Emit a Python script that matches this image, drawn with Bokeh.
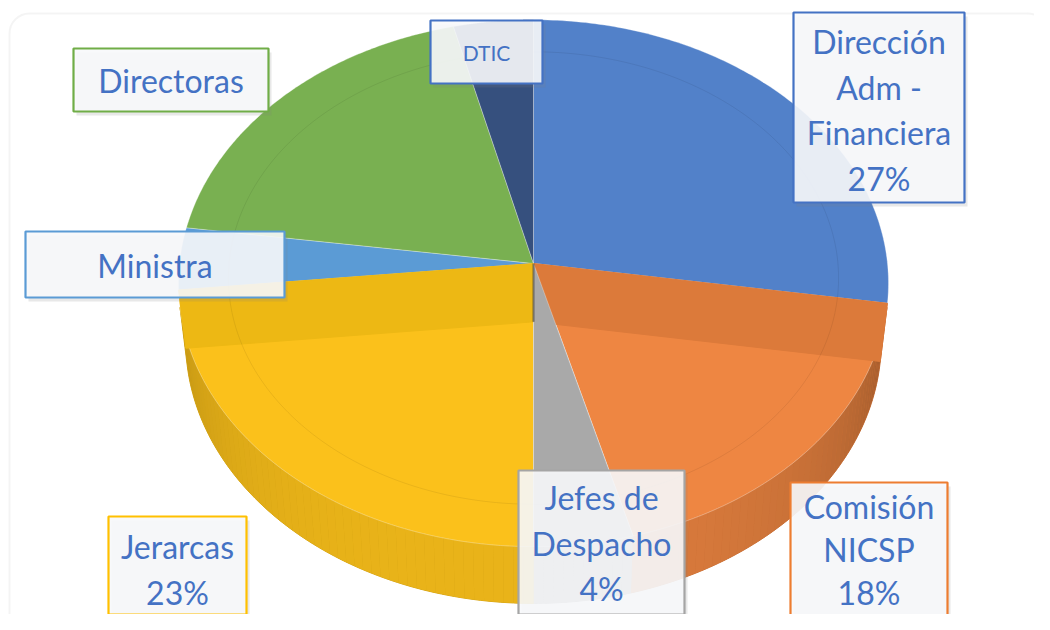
import numpy as np
from bokeh.plotting import figure
from bokeh.models import Range1d, BoxAnnotation, ColumnDataSource
from bokeh.core.properties import value
from bokeh.embed import file_html
from bokeh.resources import INLINE

# ---------------- data ----------------
categories = ["Dirección Adm - Financiera", "Comisión NICSP", "Jefes de Despacho",
              "Jerarcas", "Ministra", "Directoras", "DTIC"]
shares = [27.4, 18.4, 4.2, 23.4, 3.8, 18.9, 3.9]
show_pct = [True, True, True, True, False, False, False]
label_wrap = [["Dirección", "Adm -", "Financiera"], ["Comisión", "NICSP"], ["Jefes de", "Despacho"],
              ["Jerarcas"], ["Ministra"], ["Directoras"], ["DTIC"]]

# ---------------- style ----------------
top_colors = ["#5281C9", "#EE8642", "#A9A9A9", "#FBC11B", "#5B9BD5", "#79B051", "#36507E"]
band_colors = ["#4A78C0", "#DC7A3A", "#9C9C9C", "#EDB814", "#5590C8", "#6FA348", "#2F4773"]
border_colors = ["#4472C4", "#ED7D31", "#A5A5A5", "#FFC000", "#5B9BD5", "#70AD47", "#4472C4"]
text_color = "#4472C4"
font = "Lato"

label_boxes = [(793, 12, 964, 202), (790, 482, 947, 640), (518, 470, 684, 614),
               (108, 516, 246, 614), (25, 231, 284, 297), (73, 48, 268, 111), (430, 20, 542, 83)]
first_line_y = [41, 506, 497, 546, 265, 80, 52]
line_steps = [45.5, 43, 45.5, 45.5, 45.5, 45.5, 45.5]
font_sizes = [32, 32, 32, 32, 32, 32, 21]

# projection parameters (perspective 3D pie)
cx, cy0 = 533.0, 263.0
sphi, cphi = 0.74, 0.6726
D = 9.0
f = 3186.0
h = 0.25


def proj(X, Y, Z):
    u = X
    v = Y * sphi + Z * cphi
    w = D + Y * cphi - Z * sphi
    return cx + f * u / w, cy0 - f * v / w


def shade(hexcol, k):
    r, g, b = (int(hexcol[i:i + 2], 16) for i in (1, 3, 5))
    r, g, b = (max(0, min(255, int(c * k))) for c in (r, g, b))
    return "#%02x%02x%02x" % (r, g, b)


W, H = 1034, 614
p = figure(width=W, height=H, x_range=Range1d(0, W), y_range=Range1d(H, 0),
           output_backend="svg", toolbar_location=None, min_border=0)
p.axis.visible = False
p.grid.visible = False
p.outline_line_color = None
p.background_fill_color = "white"
p.border_fill_color = "white"

# chart border (rounded)
p.add_layout(BoxAnnotation(left=9, right=1047, top=13, bottom=700, fill_alpha=0,
                           line_color="#D9D9D9", line_width=2, border_radius=20, level="underlay"))

vals = np.array(shares, dtype=float)
ends = np.cumsum(vals) / vals.sum() * 360.0
starts = np.concatenate([[0.0], ends[:-1]])

# visible range of the cylinder side
Yc = -D * cphi
tlim = np.degrees(np.arccos(1.0 / Yc))
t_lo, t_hi = tlim, 360.0 - tlim

# side: base polygons then shaded strips
bx_list, by_list, bc_list = [], [], []
sx_list, sy_list, sc_list = [], [], []
for i in range(len(vals)):
    a0, a1 = max(starts[i], t_lo), min(ends[i], t_hi)
    if a1 <= a0:
        continue
    tt = np.radians(np.linspace(a0, a1, 80))
    x1, y1 = proj(np.sin(tt), np.cos(tt), 0.0)
    x2, y2 = proj(np.sin(tt), np.cos(tt), -h)
    bx_list.append(list(x1) + list(x2[::-1]))
    by_list.append(list(y1) + list(y2[::-1]))
    bc_list.append(shade(top_colors[i], 0.85))
    n = max(2, int((a1 - a0) / 1.5) + 1)
    ts = np.linspace(a0, a1, n)
    for j in range(n - 1):
        tt = np.radians(np.linspace(ts[j], ts[j + 1], 3))
        X, Y = np.sin(tt), np.cos(tt)
        x1, y1 = proj(X, Y, 0.0)
        x2, y2 = proj(X, Y, -h)
        tm = np.radians((ts[j] + ts[j + 1]) / 2)
        k = 0.93 - 0.25 * (1 - abs(np.cos(tm - np.radians(190)))) ** 1.3
        sx_list.append(list(x1) + list(x2[::-1]))
        sy_list.append(list(y1) + list(y2[::-1]))
        sc_list.append(shade(top_colors[i], k))
p.patches(bx_list, by_list, fill_color=bc_list, line_color=bc_list, line_width=1)
p.patches(sx_list, sy_list, fill_color=sc_list, line_color=None)

# top surface slices
tx_list, ty_list = [], []
for i in range(len(vals)):
    tt = np.radians(np.linspace(starts[i], ends[i], 120))
    x, y = proj(np.sin(tt), np.cos(tt), 0.0)
    tx_list.append([cx] + list(x))
    ty_list.append([cy0] + list(y))
p.patches(tx_list, ty_list, fill_color=top_colors, line_color="white", line_alpha=0.3, line_width=1)

# darker radial bands of the front slices next to the horizontal diameter
c0x, c0y = proj(0.0, 0.0, 0.0)
c1x, c1y = proj(0.0, 0.0, -h)
wx, wy, wc = [], [], []
for i in range(len(vals)):
    for ang in (starts[i], ends[i]):
        a = np.radians(ang)
        if not (t_lo - 5 < ang < t_lo + 5 or t_hi - 5 < ang < t_hi + 5):
            continue
        if not (np.sin(a) > 0 and ang == starts[i]) and not (np.sin(a) < 0 and ang == ends[i]):
            continue
        r0x, r0y = proj(np.sin(a), np.cos(a), 0.0)
        r1x, r1y = proj(np.sin(a), np.cos(a), -h)
        wx.append([c0x, r0x, r1x, c1x])
        wy.append([c0y, r0y, r1y, c1y])
        wc.append(band_colors[i])
p.patches(wx, wy, fill_color=wc, line_color=wc, line_width=1)
# neighbouring thin slice redrawn above the band
for i in range(len(vals)):
    if starts[i] > 90 and ends[i] < 270 and vals[i] < 10:
        p.patch(tx_list[i], ty_list[i], fill_color=top_colors[i], line_color="white",
                line_alpha=0.3, line_width=1)
p.line([c0x, c1x], [c0y, c1y], line_color="#3a3a3a", line_alpha=0.6, line_width=2)

# faint bevel ring
tt = np.radians(np.linspace(0, 360, 360))
rx_, ry_ = proj(0.86 * np.sin(tt), 0.86 * np.cos(tt), 0.0)
p.line(list(rx_), list(ry_), line_color="black", line_alpha=0.07, line_width=1)

# label boxes with shadow
for i, (l, t, r, b) in enumerate(label_boxes):
    p.quad(left=[l + 3], right=[r + 3], top=[t + 4], bottom=[b + 4], fill_color="#808080",
           fill_alpha=0.18, line_color=None)
    p.quad(left=[l], right=[r], top=[t], bottom=[b], fill_color="#F7F8FB", fill_alpha=0.9,
           line_color=border_colors[i], line_width=2.2)

# label texts
xs, ys, txt, sizes = [], [], [], []
for i in range(len(vals)):
    lines = list(label_wrap[i])
    if show_pct[i]:
        lines.append("%d%%" % round(shares[i]))
    l, t, r, b = label_boxes[i]
    for k, s in enumerate(lines):
        xs.append((l + r) / 2)
        ys.append(first_line_y[i] + k * line_steps[i])
        txt.append(s)
        sizes.append("%dpx" % font_sizes[i])
src = ColumnDataSource(dict(x=xs, y=ys, text=txt, size=sizes))
p.text(x="x", y="y", text="text", source=src, text_font=value(font), text_font_size="size",
       text_color=text_color, text_align="center", text_baseline="middle")

open("out.html", "w").write(file_html(p, INLINE))
